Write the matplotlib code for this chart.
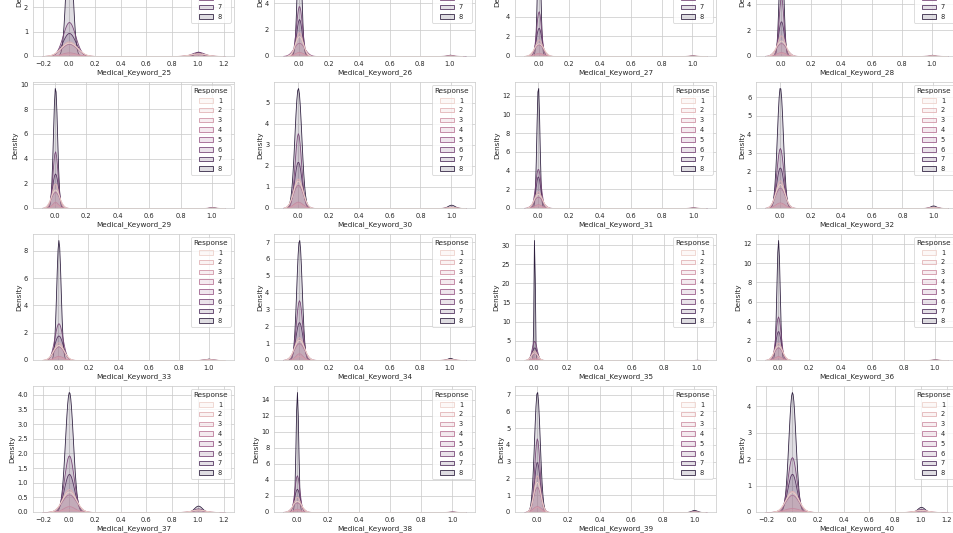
import numpy as np
import matplotlib
matplotlib.use("Agg")
import matplotlib.pyplot as plt
from matplotlib.ticker import MaxNLocator
from matplotlib.patches import Patch
from matplotlib.colors import to_rgba, Normalize
import seaborn as sns

# ---------------- data ----------------
responses = [1, 2, 3, 4, 5, 6, 7, 8]
response_counts = [6207, 6552, 1013, 1428, 5432, 11233, 8027, 19489]

keywords = [f"Medical_Keyword_{i}" for i in range(25, 41)]

# peak density at x = 0 for each Response (1..8)
peak_kw25 = [0.55, 0.60, 0.09, 0.15, 0.50, 1.40, 0.95, 4.95]
peak_kw26 = [1.50, 1.80, 0.25, 0.30, 1.00, 3.80, 2.80, 9.10]
peak_kw27 = [1.30, 1.70, 0.25, 0.30, 1.20, 4.60, 2.90, 12.3]
peak_kw28 = [1.20, 1.60, 0.25, 0.30, 1.00, 4.60, 2.70, 9.40]
peak_kw29 = [1.50, 2.00, 0.30, 0.50, 1.30, 4.60, 2.80, 9.80]
peak_kw30 = [1.30, 1.40, 0.22, 0.30, 1.10, 3.55, 2.20, 5.70]
peak_kw31 = [1.50, 1.80, 0.30, 0.40, 1.20, 4.20, 3.40, 13.1]
peak_kw32 = [1.30, 1.50, 0.25, 0.30, 1.10, 3.25, 2.20, 6.55]
peak_kw33 = [1.10, 1.30, 0.20, 0.30, 1.00, 2.70, 1.80, 8.80]
peak_kw34 = [1.20, 1.35, 0.25, 0.40, 1.00, 3.55, 2.25, 7.15]
peak_kw35 = [2.00, 2.50, 0.40, 0.60, 1.80, 5.00, 3.30, 33.5]
peak_kw36 = [1.50, 1.80, 0.30, 0.40, 1.30, 4.50, 3.00, 12.4]
peak_kw37 = [0.70, 0.78, 0.09, 0.20, 0.60, 1.93, 1.30, 4.10]
peak_kw38 = [1.40, 1.90, 0.30, 0.40, 1.20, 4.60, 2.90, 15.0]
peak_kw39 = [1.80, 2.20, 0.30, 0.35, 1.50, 4.40, 3.00, 7.20]
peak_kw40 = [0.75, 0.80, 0.09, 0.15, 0.65, 2.08, 1.45, 4.55]

peaks = [peak_kw25, peak_kw26, peak_kw27, peak_kw28,
         peak_kw29, peak_kw30, peak_kw31, peak_kw32,
         peak_kw33, peak_kw34, peak_kw35, peak_kw36,
         peak_kw37, peak_kw38, peak_kw39, peak_kw40]

# ---------------- style ----------------
sns.set_theme(style="whitegrid", font_scale=1.2)
plt.rcParams.update({
    "patch.linewidth": 1.6,
    "grid.linewidth": 1.5,
    "axes.linewidth": 1.5,
})
DPI = 36
W, H = 953, 533
fig = plt.figure(figsize=(W / DPI, H / DPI), dpi=DPI)

cmap = sns.color_palette("ch:", as_cmap=True)
norm = Normalize(min(responses), max(responses))
colors = [cmap(norm(r)) for r in responses]
FILL_ALPHA = 0.15

counts = np.array(response_counts, dtype=float)
N = counts.sum()
share = counts / N
SQ2PI = np.sqrt(2 * np.pi)

col_left = [33, 274, 515, 756]
row_bottom = [56, 208, 360, 512]
ax_w, ax_h = 201, 126


def kde_curve(k, h0):
    n = counts[k]
    C = share[k] * n ** 0.2 / SQ2PI
    q = 1.0 / (1.0 + (h0 / C) ** 2)          # share of ones in the group
    bw = np.sqrt(q * (1 - q)) * n ** (-0.2)  # Scott bandwidth
    x = np.linspace(-3 * bw, 1 + 3 * bw, 200)
    g0 = np.exp(-0.5 * (x / bw) ** 2)
    g1 = np.exp(-0.5 * ((x - 1) / bw) ** 2)
    y = share[k] * ((1 - q) * g0 + q * g1) / (SQ2PI * bw)
    return x, y


for i, (name, pk) in enumerate(zip(keywords, peaks)):
    r, c = divmod(i, 4)
    left = col_left[c] / W
    bottom = (H - row_bottom[r]) / H
    ax = fig.add_axes([left, bottom, ax_w / W, ax_h / H])
    for k in reversed(range(len(responses))):
        x, y = kde_curve(k, pk[k])
        coll = ax.fill_between(x, 0, y, facecolor=to_rgba(colors[k], FILL_ALPHA),
                               edgecolor=to_rgba(colors[k], 1.0))
        coll.sticky_edges.y[:] = [0, np.inf]
    ax.autoscale_view()
    ax.set_xlabel(name)
    ax.set_ylabel("Density")
    ax.yaxis.set_major_locator(MaxNLocator(nbins=9, steps=[1, 2, 2.5, 5, 10]))
    ax.xaxis.set_major_locator(MaxNLocator(nbins=9, steps=[1, 2, 2.5, 5, 10]))
    handles = [Patch(facecolor=to_rgba(colors[k], FILL_ALPHA),
                     edgecolor=to_rgba(colors[k], 1.0), label=str(resp))
               for k, resp in enumerate(responses)]
    ax.legend(handles=handles, title="Response", loc="upper right",
              labelspacing=0.57)

fig.savefig("out.png", dpi=DPI)
